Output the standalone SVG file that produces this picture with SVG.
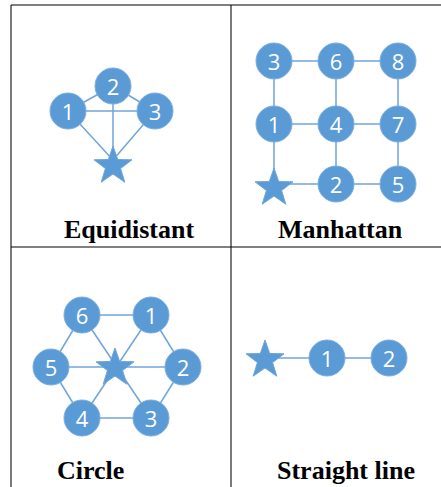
<svg xmlns="http://www.w3.org/2000/svg" width="441" height="487" viewBox="0 0 441 487">
<defs>
<style>
.n{fill:#5B9BD5;stroke:#7BAEE0;stroke-width:1}
.s{fill:#5B9BD5;stroke:#6FA5DA;stroke-width:1}
.nt{font-family:"Open Sans","Liberation Sans",sans-serif;font-size:22px;fill:#fff;text-anchor:middle;dominant-baseline:central}
.e{stroke:#6FA5DA;stroke-width:1.5;fill:none}
.lbl{font-family:"Liberation Serif","Times New Roman",serif;font-weight:bold;font-size:26px;fill:#000}
.vb{stroke:#7a7a7a;stroke-width:2}
.hb{stroke:#000;stroke-width:1.2}
</style>
<path id="star" d="M0,-20 L4.7,-6.5 L19,-6.2 L7.6,2.5 L11.8,16.2 L0,8 L-11.8,16.2 L-7.6,2.5 L-19,-6.2 L-4.7,-6.5 Z"/>
</defs>
<rect width="441" height="487" fill="#fff"/>
<g id="frame">
<line class="vb" x1="11" y1="5" x2="11" y2="487"/>
<line class="vb" x1="231" y1="5" x2="231" y2="487"/>
<line class="hb" x1="11" y1="5" x2="441" y2="5"/>
<line class="hb" x1="11" y1="247" x2="441" y2="247"/>
</g>
<g id="connectors">
<line class="e" x1="68" y1="111" x2="113" y2="86"/>
<line class="e" x1="113" y1="86" x2="155" y2="111"/>
<line class="e" x1="68" y1="111" x2="155" y2="111"/>
<line class="e" x1="68" y1="111" x2="113" y2="160"/>
<line class="e" x1="113" y1="86" x2="113" y2="160"/>
<line class="e" x1="155" y1="111" x2="113" y2="160"/>
<line class="e" x1="274" y1="61" x2="336" y2="61"/>
<line class="e" x1="336" y1="61" x2="398" y2="61"/>
<line class="e" x1="274" y1="61" x2="274" y2="124"/>
<line class="e" x1="336" y1="61" x2="336" y2="124"/>
<line class="e" x1="398" y1="61" x2="398" y2="124"/>
<line class="e" x1="274" y1="124" x2="336" y2="124"/>
<line class="e" x1="336" y1="124" x2="398" y2="124"/>
<line class="e" x1="274" y1="124" x2="274" y2="184"/>
<line class="e" x1="336" y1="124" x2="336" y2="184"/>
<line class="e" x1="398" y1="124" x2="398" y2="184"/>
<line class="e" x1="274" y1="184" x2="336" y2="184"/>
<line class="e" x1="336" y1="184" x2="398" y2="184"/>
<line class="e" x1="82" y1="315" x2="151" y2="315"/>
<line class="e" x1="151" y1="315" x2="183" y2="367"/>
<line class="e" x1="183" y1="367" x2="151" y2="418"/>
<line class="e" x1="151" y1="418" x2="82" y2="418"/>
<line class="e" x1="82" y1="418" x2="51" y2="367"/>
<line class="e" x1="51" y1="367" x2="82" y2="315"/>
<line class="e" x1="82" y1="315" x2="151" y2="418"/>
<line class="e" x1="151" y1="315" x2="82" y2="418"/>
<line class="e" x1="51" y1="367" x2="183" y2="367"/>
<line class="e" x1="265" y1="358" x2="327" y2="358"/>
<line class="e" x1="327" y1="358" x2="389" y2="358"/>
</g>
<g id="eq-1"><circle class="n" cx="68" cy="111" r="18"/><text class="nt" x="68" y="111">1</text></g>
<g id="eq-2"><circle class="n" cx="113" cy="86" r="18"/><text class="nt" x="113" y="86">2</text></g>
<g id="eq-3"><circle class="n" cx="155" cy="111" r="18"/><text class="nt" x="155" y="111">3</text></g>
<g id="eq-star"><use href="#star" class="s" transform="translate(113,166)"/></g>
<g id="eq-label"><text class="lbl" x="64" y="238">Equidistant</text></g>

<g id="mh-3"><circle class="n" cx="274" cy="61" r="18"/><text class="nt" x="274" y="61">3</text></g>
<g id="mh-6"><circle class="n" cx="336" cy="61" r="18"/><text class="nt" x="336" y="61">6</text></g>
<g id="mh-8"><circle class="n" cx="398" cy="61" r="18"/><text class="nt" x="398" y="61">8</text></g>
<g id="mh-1"><circle class="n" cx="274" cy="124" r="18"/><text class="nt" x="274" y="124">1</text></g>
<g id="mh-4"><circle class="n" cx="336" cy="124" r="18"/><text class="nt" x="336" y="124">4</text></g>
<g id="mh-7"><circle class="n" cx="398" cy="124" r="18"/><text class="nt" x="398" y="124">7</text></g>
<g id="mh-star"><use href="#star" class="s" transform="translate(274,188)"/></g>
<g id="mh-2"><circle class="n" cx="336" cy="184" r="18"/><text class="nt" x="336" y="184">2</text></g>
<g id="mh-5"><circle class="n" cx="398" cy="184" r="18"/><text class="nt" x="398" y="184">5</text></g>
<g id="mh-label"><text class="lbl" x="278" y="238">Manhattan</text></g>

<g id="ci-6"><circle class="n" cx="82" cy="315" r="18"/><text class="nt" x="82" y="315">6</text></g>
<g id="ci-1"><circle class="n" cx="151" cy="315" r="18"/><text class="nt" x="151" y="315">1</text></g>
<g id="ci-5"><circle class="n" cx="51" cy="367" r="18"/><text class="nt" x="51" y="367">5</text></g>
<g id="ci-2"><circle class="n" cx="183" cy="367" r="18"/><text class="nt" x="183" y="367">2</text></g>
<g id="ci-4"><circle class="n" cx="82" cy="418" r="18"/><text class="nt" x="82" y="418">4</text></g>
<g id="ci-3"><circle class="n" cx="151" cy="418" r="18"/><text class="nt" x="151" y="418">3</text></g>
<g id="ci-star"><use href="#star" class="s" transform="translate(115,368)"/></g>
<g id="ci-label"><text class="lbl" x="57" y="479">Circle</text></g>

<g id="sl-star"><use href="#star" class="s" transform="translate(265,360)"/></g>
<g id="sl-1"><circle class="n" cx="327" cy="358" r="18"/><text class="nt" x="327" y="358">1</text></g>
<g id="sl-2"><circle class="n" cx="389" cy="358" r="18"/><text class="nt" x="389" y="358">2</text></g>
<g id="sl-label"><text class="lbl" x="277" y="479">Straight line</text></g>
</svg>
